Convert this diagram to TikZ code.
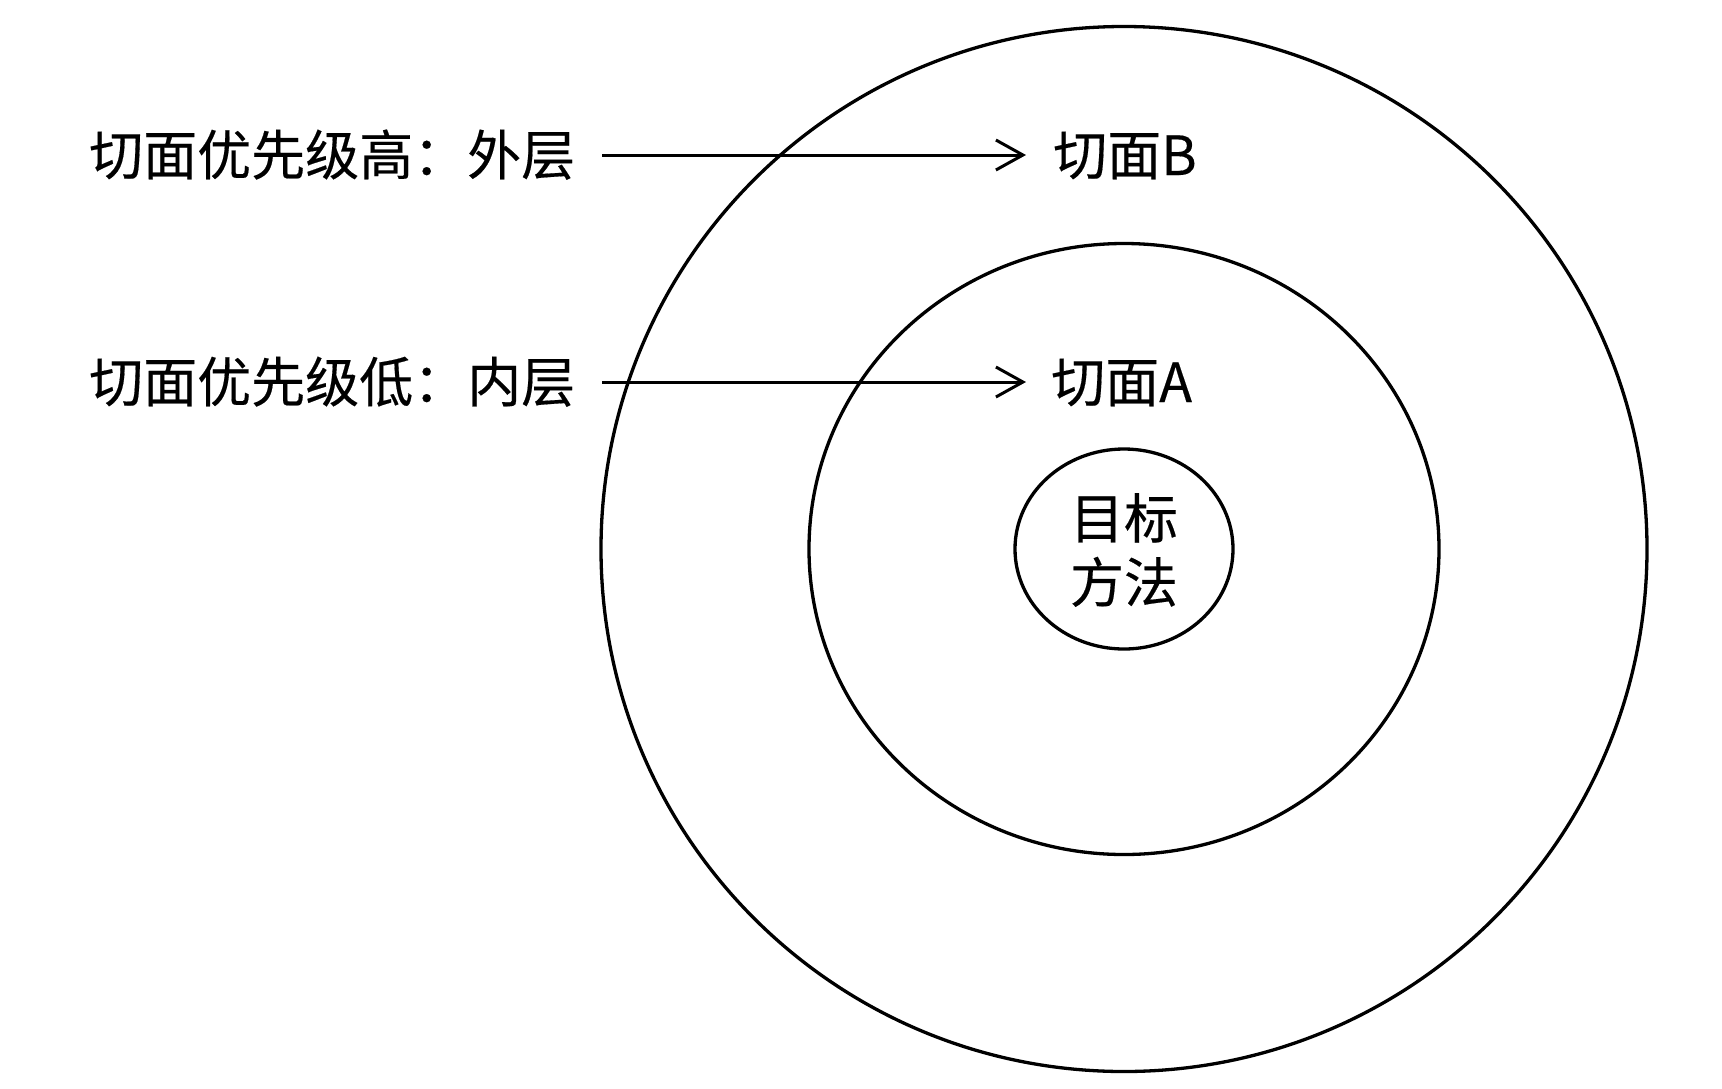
\documentclass[tikz,border=0pt]{standalone}
\usepackage{fontspec}
\newfontfamily\cjk[FakeBold=0.3]{Noto Sans CJK SC}
\usetikzlibrary{shapes.geometric,arrows.meta}
\tikzset{
  ring/.style={draw=black, line width=3.3pt, ellipse, inner sep=0pt},
  lbl/.style={inner sep=0pt, font=\cjk\fontsize{54}{64}\selectfont},
  arr/.style={draw=black, line width=3pt, -{Straight Barb[length=27pt,width=30pt]}}
}
\begin{document}
\begin{tikzpicture}[x=1pt,y=-1pt]
\useasboundingbox (0,0) rectangle (1722,1088);
\fill[white] (0,0) rectangle (1722,1088);
\node[ring, minimum width=1046pt, minimum height=1045pt] (outer) at (1124,549) {};
\node[ring, minimum width=630pt, minimum height=611pt] (middle) at (1124,549) {};
\node[ring, minimum width=218pt, minimum height=200pt] (inner) at (1124,549) {};
\node[lbl, align=center] (target) at (1124,550) {目标\\方法};
\node[lbl, anchor=base west] (hi) at (89,175) {切面优先级高：外层};
\node[lbl, anchor=base west] (lo) at (89,402) {切面优先级低：内层};
\node[lbl, anchor=base west] (B) at (1053,175) {切面B};
\node[lbl, anchor=base west] (A) at (1051,402) {切面A};
\coordinate (s1) at (602,155);
\coordinate (s2) at (602,382);
\draw[arr, shorten >=27pt] (s1) -- (s1 -| B.west);
\draw[arr, shorten >=25pt] (s2) -- (s2 -| A.west);
\end{tikzpicture}
\end{document}
